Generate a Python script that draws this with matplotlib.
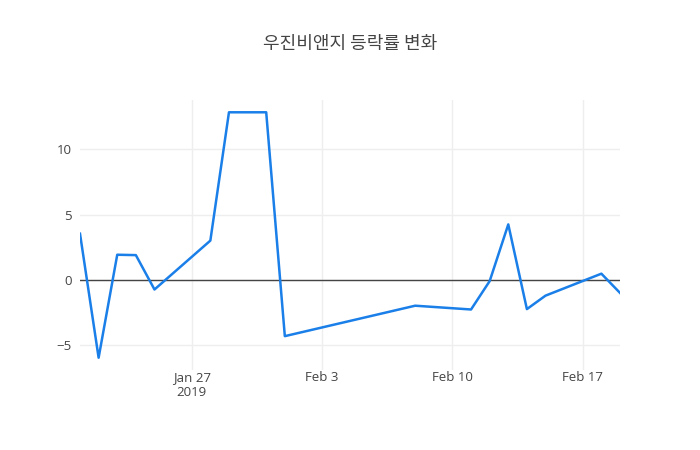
import matplotlib
matplotlib.use("Agg")
import matplotlib.pyplot as plt
import pandas as pd

# daily change rate (%)
dates = ["2019-01-21", "2019-01-22", "2019-01-23", "2019-01-24", "2019-01-25",
         "2019-01-28", "2019-01-29", "2019-01-30", "2019-01-31", "2019-02-01",
         "2019-02-08", "2019-02-11", "2019-02-12", "2019-02-13", "2019-02-14",
         "2019-02-15", "2019-02-18", "2019-02-19"]
rates = [3.55, -5.94, 1.94, 1.91, -0.72,
         3.02, 12.84, 12.84, 12.84, -4.29,
         -1.96, -2.25, -0.08, 4.26, -2.22,
         -1.19, 0.49, -0.98]
tick_dates = ["2019-01-27", "2019-02-03", "2019-02-10", "2019-02-17"]
tick_labels = ["Jan 27\n2019", "Feb 3", "Feb 10", "Feb 17"]
y_ticks = [-5, 0, 5, 10]

x = pd.to_datetime(dates)

fig = plt.figure(figsize=(7, 4.5), dpi=100)
ax = fig.add_axes([80 / 700, 80 / 450, 540 / 700, 270 / 450])

ax.plot(x, rates, color="#1a7fe8", lw=1.8, zorder=3)
ax.axhline(0, color="#444444", lw=1, zorder=2)

ax.set_xlim(x[0], x[-1])
ax.set_ylim(-6.88, 13.78)
ax.set_xticks(pd.to_datetime(tick_dates))
ax.set_xticklabels(tick_labels)
ax.set_yticks(y_ticks)

ax.grid(True, color="#eeeeee", lw=1, zorder=0)
for s in ax.spines.values():
    s.set_visible(False)
ax.tick_params(length=0, colors="#444444", labelsize=9.5, pad=6)
for lab in ax.get_xticklabels() + ax.get_yticklabels():
    lab.set_family(["Open Sans", "DejaVu Sans"])
ax.tick_params(axis="x", pad=1)

fig.text(0.5, 1 - 44 / 450, "우진비앤지 등락률 변화", ha="center", va="center",
         fontsize=13, color="#444444", family=["Noto Sans CJK KR", "DejaVu Sans"])

fig.savefig("out.png", dpi=100)
